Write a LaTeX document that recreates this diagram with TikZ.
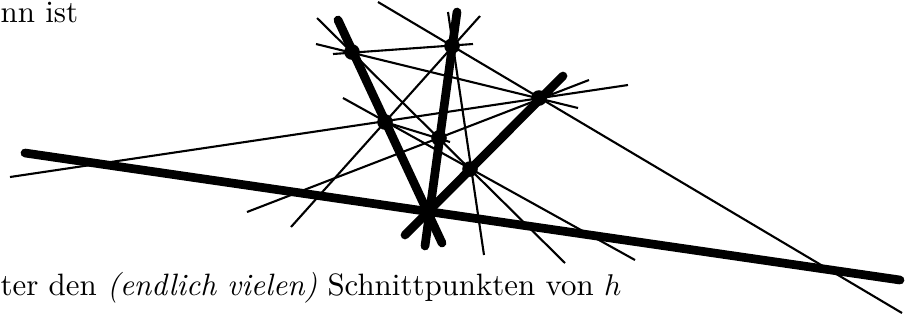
\documentclass[tikz,border=0pt]{standalone}
\usepackage{tikz}
\usetikzlibrary{positioning}

\begin{document}
\begin{tikzpicture}[auto, x=0.3333pt, y=-0.3333pt]
    \tikzstyle{heavy} = [draw, line width=2.9pt, line cap=round]
    \tikzstyle{line} = [draw, line width=0.7pt]
    \tikzstyle{dot} = [circle, fill, inner sep=0pt, minimum size=5.2pt]
    \tikzstyle{txt} = [inner sep=0pt, anchor=base west, font=\fontsize{10.3pt}{12pt}\selectfont]

    \useasboundingbox (0,0) rectangle (916,320);
    %
    \node [txt] (head) at (0,22) {nn ist};
    \node [txt] (foot) at (0,295) {ter den \textit{(endlich vielen)} Schnittpunkten von $h$};
    %
    \coordinate (q) at (428,212);
    \coordinate (h1) at (25,153);
    \coordinate (h2) at (900,280);
    \coordinate (g1a) at (338,20);
    \coordinate (g1b) at (442,243);
    \coordinate (g2a) at (457,12);
    \coordinate (g2b) at (425,246);
    \coordinate (g3a) at (563,76);
    \coordinate (g3b) at (405,235);
    %
    \coordinate (a1) at (378,2);    \coordinate (a2) at (902,313);
    \coordinate (b1) at (317,18);   \coordinate (b2) at (565,263);
    \coordinate (c1) at (316,44);   \coordinate (c2) at (578,108);
    \coordinate (d1) at (10,177);   \coordinate (d2) at (628,85);
    \coordinate (e1) at (247,212);  \coordinate (e2) at (589,80);
    \coordinate (f1) at (333,54);   \coordinate (f2) at (473,44);
    \coordinate (k1) at (291,227);  \coordinate (k2) at (480,16);
    \coordinate (i1) at (448,12);   \coordinate (i2) at (484,255);
    \coordinate (j1) at (343,98);   \coordinate (j2) at (635,260);
    \coordinate (m1) at (385,122);  \coordinate (m2) at (450,142);
    %
    \path [line] (a1) -- (a2);
    \path [line] (b1) -- (b2);
    \path [line] (c1) -- (c2);
    \path [line] (d1) -- (d2);
    \path [line] (e1) -- (e2);
    \path [line] (f1) -- (f2);
    \path [line] (k1) -- (k2);
    \path [line] (i1) -- (i2);
    \path [line] (j1) -- (j2);
    \path [line] (m1) -- (m2);
    %
    \path [heavy] (h1) -- (h2);
    \path [heavy] (g1a) -- (g1b);
    \path [heavy] (g2a) -- (g2b);
    \path [heavy] (g3a) -- (g3b);
    %
    \node [dot] (p1) at (352,52) {};
    \node [dot] (p2) at (452,46) {};
    \node [dot] (p3) at (539,98) {};
    \node [dot] (p4) at (385,122) {};
    \node [dot] (p5) at (439,138) {};
    \node [dot] (p6) at (470,169) {};
    \node [dot] (pq) at (q) {};
\end{tikzpicture}
\end{document}
